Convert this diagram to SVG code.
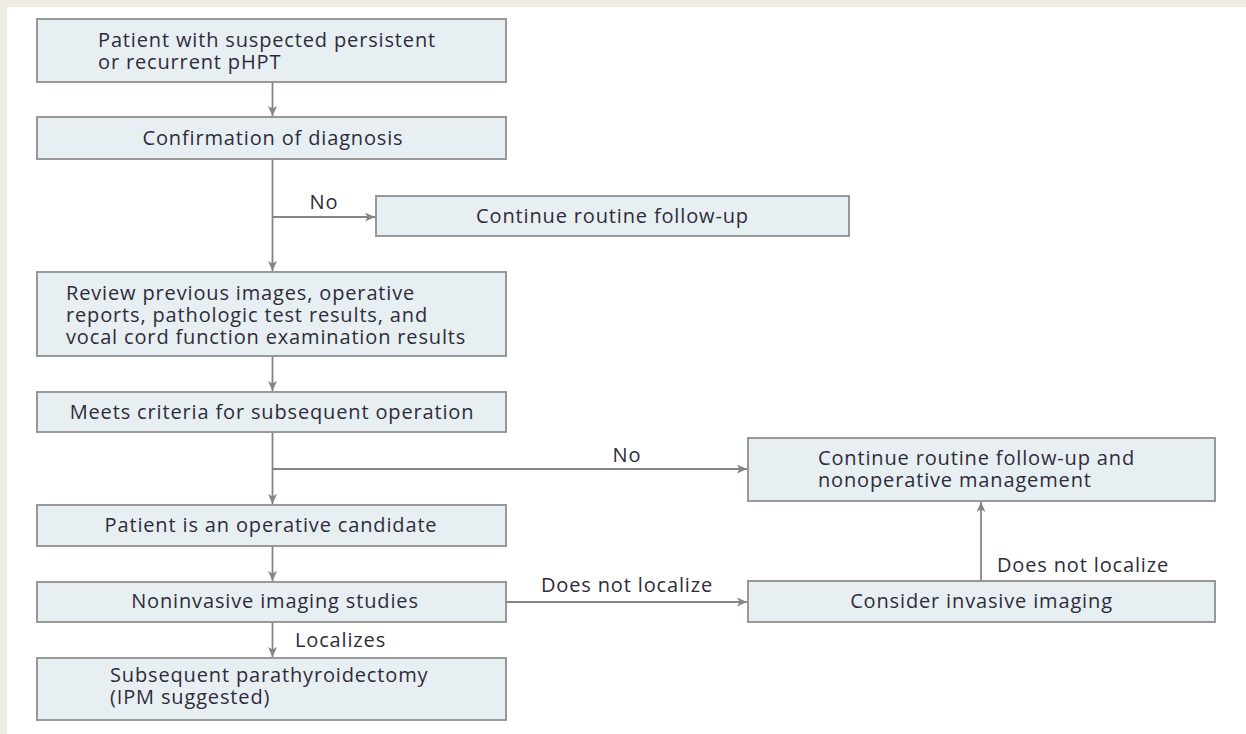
<svg xmlns="http://www.w3.org/2000/svg" width="1246" height="734" viewBox="0 0 1246 734">
  <style>
    .box { fill: #e8eff3; stroke: #8e8e8e; stroke-width: 1.8; }
    .t { font-family: "Open Sans", "Noto Sans", sans-serif; font-size: 20px; letter-spacing: 0.85px; fill: #2e2c3a; }
    .m { text-anchor: middle; }
    .c { fill: none; stroke: #858585; stroke-width: 1.8; }
  </style>
  <defs>
    <marker id="ah" markerUnits="userSpaceOnUse" markerWidth="11" markerHeight="10" refX="10" refY="4.5" orient="auto">
      <path d="M0,0 L10,4.5 L0,9 L2.5,4.5 z" fill="#858585"/>
    </marker>
  </defs>
  <rect x="0" y="0" width="1246" height="734" fill="#efece3"/>
  <rect x="7" y="7" width="1239" height="727" fill="#ffffff"/>

  <g id="connectors">
    <line class="c" x1="272.5" y1="82" x2="272.5" y2="116" marker-end="url(#ah)"/>
    <line class="c" x1="272.5" y1="159" x2="272.5" y2="271" marker-end="url(#ah)"/>
    <line class="c" x1="272.5" y1="217" x2="375" y2="217" marker-end="url(#ah)"/>
    <line class="c" x1="272.5" y1="356" x2="272.5" y2="391" marker-end="url(#ah)"/>
    <line class="c" x1="272.5" y1="432" x2="272.5" y2="504" marker-end="url(#ah)"/>
    <line class="c" x1="272.5" y1="469" x2="747" y2="469" marker-end="url(#ah)"/>
    <line class="c" x1="272.5" y1="546" x2="272.5" y2="581" marker-end="url(#ah)"/>
    <line class="c" x1="272.5" y1="622" x2="272.5" y2="657" marker-end="url(#ah)"/>
    <line class="c" x1="506" y1="602" x2="747" y2="602" marker-end="url(#ah)"/>
    <line class="c" x1="981" y1="581" x2="981" y2="502" marker-end="url(#ah)"/>
    <text class="t m" x="324" y="209">No</text>
    <text class="t m" x="627" y="462">No</text>
    <text class="t m" x="627" y="592">Does not localize</text>
    <text class="t" x="997" y="572">Does not localize</text>
    <text class="t" x="295" y="647">Localizes</text>
  </g>

  <g id="n1">
    <rect class="box" x="37" y="19" width="469" height="63"/>
    <text class="t" x="98" y="47">Patient with suspected persistent</text>
    <text class="t" x="98" y="69">or recurrent pHPT</text>
  </g>
  <g id="n2">
    <rect class="box" x="37" y="117" width="469" height="42"/>
    <text class="t m" x="273" y="145">Confirmation of diagnosis</text>
  </g>
  <g id="n3">
    <rect class="box" x="376" y="196" width="473" height="40"/>
    <text class="t m" x="612.5" y="223">Continue routine follow-up</text>
  </g>
  <g id="n4">
    <rect class="box" x="37" y="272" width="469" height="84"/>
    <text class="t" x="66" y="300">Review previous images, operative</text>
    <text class="t" x="66" y="322">reports, pathologic test results, and</text>
    <text class="t" x="66" y="344">vocal cord function examination results</text>
  </g>
  <g id="n5">
    <rect class="box" x="37" y="392" width="469" height="40"/>
    <text class="t m" x="272" y="419">Meets criteria for subsequent operation</text>
  </g>
  <g id="n6">
    <rect class="box" x="37" y="505" width="469" height="41"/>
    <text class="t m" x="271" y="532">Patient is an operative candidate</text>
  </g>
  <g id="n7">
    <rect class="box" x="748" y="438" width="467" height="63"/>
    <text class="t" x="818" y="465">Continue routine follow-up and</text>
    <text class="t" x="818" y="487">nonoperative management</text>
  </g>
  <g id="n8">
    <rect class="box" x="37" y="582" width="469" height="40"/>
    <text class="t m" x="275" y="608">Noninvasive imaging studies</text>
  </g>
  <g id="n9">
    <rect class="box" x="748" y="581" width="467" height="41"/>
    <text class="t m" x="981.5" y="608">Consider invasive imaging</text>
  </g>
  <g id="n10">
    <rect class="box" x="37" y="658" width="469" height="62"/>
    <text class="t" x="110" y="682">Subsequent parathyroidectomy</text>
    <text class="t" x="110" y="704">(IPM suggested)</text>
  </g>
</svg>
